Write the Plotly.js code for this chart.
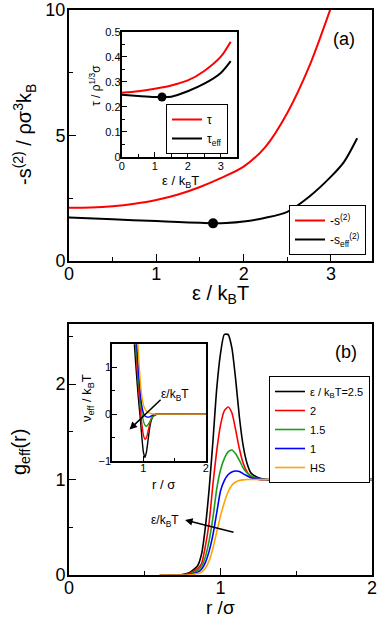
<!DOCTYPE html>
<html>
<head>
<meta charset="utf-8">
<script src="https://cdn.plot.ly/plotly-3.0.1.min.js"></script>
<style>html,body{margin:0;padding:0;background:#fff;}#chart{width:381px;height:618px;}</style>
</head>
<body>
<div id="chart"></div>
<script>
// ---- panel (a) main: -s(2) and -s_eff(2) vs eps/kBT
const epsA = [0, 0.25, 0.5, 0.75, 1.0, 1.25, 1.5, 1.75, 2.0, 2.25, 2.5, 2.75, 3.0];
const s2 = [2.12, 2.13, 2.18, 2.28, 2.43, 2.65, 2.95, 3.32, 3.76, 4.55, 5.9, 7.74, 10.1];
const epsB = [0, 0.5, 1.0, 1.25, 1.5, 1.65, 1.8, 2.0, 2.25, 2.5, 2.75, 3.0, 3.15, 3.3];
const s2eff = [1.73, 1.66, 1.59, 1.55, 1.52, 1.50, 1.51, 1.57, 1.72, 1.96, 2.56, 3.36, 3.95, 4.89];
const minS = {x: [1.65], y: [1.50]};
// ---- panel (a) inset: tau and tau_eff
const epsI = [0, 0.5, 1.0, 1.5, 2.0, 2.5, 3.0, 3.3];
const tau = [0.256, 0.262, 0.272, 0.285, 0.305, 0.343, 0.400, 0.460];
const tauEff = [0.248, 0.243, 0.239, 0.240, 0.262, 0.292, 0.335, 0.382];
const minTau = {x: [1.22], y: [0.239]};
// ---- panel (b) main: g_eff(r)
const rG = [0.6, 0.75, 0.8, 0.85, 0.875, 0.9, 0.925, 0.95, 0.975, 1.0, 1.025, 1.05, 1.075, 1.1, 1.125, 1.15, 1.175, 1.2, 1.25, 1.3, 2.0];
const g25 = [0, 0.005, 0.03, 0.1, 0.22, 0.5, 0.9, 1.4, 1.95, 2.32, 2.52, 2.52, 2.38, 2.05, 1.65, 1.35, 1.17, 1.07, 1.02, 1.0, 1.0];
const g20 = [0, 0.003, 0.02, 0.07, 0.12, 0.3, 0.55, 0.95, 1.3, 1.57, 1.72, 1.76, 1.70, 1.52, 1.32, 1.17, 1.08, 1.03, 1.0, 1.0, 1.0];
const g15 = [0, 0.002, 0.012, 0.05, 0.09, 0.19, 0.36, 0.6, 0.9, 1.1, 1.22, 1.29, 1.31, 1.27, 1.2, 1.12, 1.07, 1.04, 1.01, 1.0, 1.0];
const g10 = [0, 0.001, 0.008, 0.03, 0.06, 0.13, 0.25, 0.42, 0.65, 0.88, 0.99, 1.05, 1.08, 1.09, 1.085, 1.06, 1.04, 1.02, 1.005, 1.0, 1.0];
const gHS = [0, 0, 0.003, 0.015, 0.03, 0.07, 0.15, 0.28, 0.45, 0.62, 0.76, 0.87, 0.94, 0.975, 0.99, 0.997, 1.0, 1.0, 1.0, 1.0, 1.0];
// ---- panel (b) inset: beta v_eff(r)
const rV = [0.8, 0.85, 0.875, 0.9, 0.925, 0.95, 0.975, 1.0, 1.025, 1.05, 1.075, 1.1, 1.125, 1.15, 1.2, 1.25, 2.0];
const v25 = [3.0, 1.6, 1.1, 0.65, 0.25, -0.1, -0.5, -0.82, -0.93, -0.8, -0.55, -0.3, -0.14, -0.06, -0.01, 0, 0];
const v20 = [3.0, 2.0, 1.45, 0.95, 0.5, 0.1, -0.22, -0.45, -0.54, -0.5, -0.36, -0.22, -0.1, -0.04, 0, 0, 0];
const v15 = [3.0, 2.2, 1.7, 1.15, 0.7, 0.3, 0.03, -0.15, -0.24, -0.26, -0.22, -0.17, -0.1, -0.05, 0, 0, 0];
const v10 = [3.0, 2.5, 1.9, 1.35, 0.85, 0.45, 0.17, 0.02, -0.04, -0.06, -0.065, -0.06, -0.04, -0.02, 0, 0, 0];
const vHS = [3.0, 3.0, 2.5, 1.8, 1.2, 0.7, 0.38, 0.2, 0.11, 0.06, 0.035, 0.02, 0.01, 0.005, 0, 0, 0];

const seriesB = [
  {name: 'ε / k<sub>B</sub>T=2.5', g: g25, v: v25, color: '#000000'},
  {name: '2', g: g20, v: v20, color: '#ff0000'},
  {name: '1.5', g: g15, v: v15, color: '#1a9e1a'},
  {name: '1', g: g10, v: v10, color: '#0000ff'},
  {name: 'HS', g: gHS, v: vHS, color: '#ffa500'}
];

const FONT = 'Liberation Sans, Arial, Helvetica, sans-serif';
const traces = [
  {x: epsA, y: s2, xaxis: 'x', yaxis: 'y', mode: 'lines', line: {color: '#ff0000', width: 2, shape: 'spline', smoothing: 0.8}, name: '-s<sup>(2)</sup>', legend: 'legend'},
  {x: epsB, y: s2eff, xaxis: 'x', yaxis: 'y', mode: 'lines', line: {color: '#000000', width: 2, shape: 'spline', smoothing: 0.8}, name: '-s<sub>eff</sub><sup>(2)</sup>', legend: 'legend'},
  {x: minS.x, y: minS.y, xaxis: 'x', yaxis: 'y', mode: 'markers', marker: {color: '#000', size: 10}, showlegend: false},
  {x: epsI, y: tau, xaxis: 'x2', yaxis: 'y2', mode: 'lines', line: {color: '#ff0000', width: 2, shape: 'spline', smoothing: 0.8}, name: 'τ', legend: 'legend2'},
  {x: epsI, y: tauEff, xaxis: 'x2', yaxis: 'y2', mode: 'lines', line: {color: '#000000', width: 2, shape: 'spline', smoothing: 0.8}, name: 'τ<sub>eff</sub>', legend: 'legend2'},
  {x: minTau.x, y: minTau.y, xaxis: 'x2', yaxis: 'y2', mode: 'markers', marker: {color: '#000', size: 9}, showlegend: false}
];
seriesB.forEach(s => {
  traces.push({x: rG, y: s.g, xaxis: 'x3', yaxis: 'y3', mode: 'lines', line: {color: s.color, width: 1.6, shape: 'spline', smoothing: 0.6}, name: s.name, legend: 'legend3'});
});
seriesB.forEach(s => {
  traces.push({x: rV, y: s.v, xaxis: 'x4', yaxis: 'y4', mode: 'lines', line: {color: s.color, width: 1.4, shape: 'spline', smoothing: 0.6}, showlegend: false});
});

function ax(domain, range, dtick, minorDtick, anchor, fs, tl, standoff) {
  return {domain: domain, range: range, dtick: dtick, tick0: 0, anchor: anchor,
    ticks: 'inside', ticklen: tl, tickwidth: 1, tickcolor: '#000',
    minor: {dtick: minorDtick, ticks: 'inside', ticklen: Math.round(tl * 0.55), tickcolor: '#000', tickwidth: 1},
    showline: true, mirror: true, linecolor: '#000', linewidth: 2,
    showgrid: false, zeroline: false, fixedrange: true, automargin: false, ticklabelstandoff: standoff,
    tickfont: {family: FONT, size: fs, color: '#000'}};
}

const xA = [69/381, 372/381], yA = [1-261/618, 1-10/618];
const xAi = [121.7/381, 237.3/381], yAi = [1-156.7/618, 1-31.7/618];
const xB = [69/381, 372/381], yB = [1-575/618, 1-324/618];
const xBi = [112.3/381, 205.7/381], yBi = [1-460.7/618, 1-344.3/618];

const lgBase = {bordercolor: '#000', borderwidth: 1, bgcolor: '#fff', xanchor: 'right', yanchor: 'top',
  itemwidth: 30, tracegroupgap: 0, font: {family: FONT, size: 12, color: '#000'}};

function note(text, x, y, size, angle) {
  return {text: text, xref: 'paper', yref: 'paper', x: x/381, y: 1 - y/618, xanchor: 'center', yanchor: 'middle',
    textangle: angle || 0, showarrow: false, font: {family: FONT, size: size, color: '#000'}};
}

const layout = {
  width: 381, height: 618, margin: {l: 0, r: 0, t: 0, b: 0, autoexpand: false},
  paper_bgcolor: '#fff', plot_bgcolor: 'rgba(0,0,0,0)',
  font: {family: FONT, color: '#000'},
  xaxis: ax(xA, [0, 3.47], 1, 0.5, 'y', 18, 7, -5),
  yaxis: ax(yA, [0, 10], 5, 2.5, 'x', 18, 7, -2),
  xaxis2: ax(xAi, [0, 3.5], 1, 0.5, 'y2', 11, 5, -2),
  yaxis2: ax(yAi, [0, 0.5], 0.1, 0.05, 'x2', 11, 5, -3),
  xaxis3: ax(xB, [0, 2], 1, 0.5, 'y3', 18, 7, -5),
  yaxis3: ax(yB, [0, 2.63], 1, 0.5, 'x3', 18, 7, -2),
  xaxis4: ax(xBi, [0.5, 2], 1, 0.5, 'y4', 11, 5, -4),
  yaxis4: ax(yBi, [-1, 1.5], 1, 0.5, 'x4', 11, 5, -3),
  legend: Object.assign({}, lgBase, {x: 366/381, y: 1-205/618}),
  legend2: Object.assign({}, lgBase, {x: 228/381, y: 1-104/618, font: {family: FONT, size: 12, color: '#000'}}),
  legend3: Object.assign({}, lgBase, {x: 370/381, y: 1-376/618, font: {family: FONT, size: 11, color: '#000'}}),
  shapes: [
    {type: 'rect', xref: 'paper', yref: 'paper', x0: xAi[0], x1: xAi[1], y0: yAi[0], y1: yAi[1], fillcolor: '#fff', line: {width: 0}, layer: 'below'},
    {type: 'rect', xref: 'paper', yref: 'paper', x0: xBi[0], x1: xBi[1], y0: yBi[0], y1: yBi[1], fillcolor: '#fff', line: {width: 0}, layer: 'below'}
  ],
  annotations: [
    note('(a)', 344, 39, 18),
    note('(b)', 346, 352, 18),
    note('-s<sup>(2)</sup> / ρσ<sup>3</sup>k<sub>B</sub>', 24, 135, 20, -90),
    note('ε / k<sub>B</sub>T', 220.5, 295, 20),
    note('τ / ρ<sup>1/3</sup>σ', 95, 86, 12, -90),
    note('ε / k<sub>B</sub>T', 180, 182, 13),
    note('g<sub>eff</sub>(r)', 20, 452, 20, -90),
    note('r /σ', 220.5, 607, 19),
    note('ν<sub>eff</sub> / k<sub>B</sub>T', 87, 398, 13, -90),
    note('r / σ', 163, 484, 13),
    {text: 'ε/k<sub>B</sub>T', xref: 'x4', yref: 'y4', x: 1.5, y: 0.42, xanchor: 'center', yanchor: 'middle', showarrow: false, font: {family: FONT, size: 12}},
    {text: '', xref: 'x4', yref: 'y4', x: 0.776, y: -0.33, axref: 'x4', ayref: 'y4', ax: 1.30, ay: 0.34, showarrow: true, arrowhead: 2, arrowsize: 1, arrowwidth: 1.5, arrowcolor: '#000'},
    {text: 'ε/k<sub>B</sub>T', xref: 'x3', yref: 'y3', x: 0.634, y: 0.57, xanchor: 'center', yanchor: 'middle', showarrow: false, font: {family: FONT, size: 12}},
    {text: '', xref: 'x3', yref: 'y3', x: 0.766, y: 0.577, axref: 'x3', ayref: 'y3', ax: 1.096, ay: 0.444, showarrow: true, arrowhead: 2, arrowsize: 1, arrowwidth: 1.5, arrowcolor: '#000'}
  ]
};

Plotly.newPlot('chart', traces, layout, {staticPlot: true, displayModeBar: false});
</script>
</body>
</html>
